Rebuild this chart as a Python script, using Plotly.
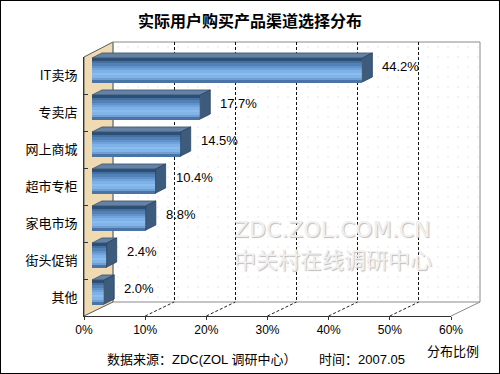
import plotly.graph_objects as go

# ---- data ----
categories = ["IT卖场", "专卖店", "网上商城", "超市专柜", "家电市场", "街头促销", "其他"]
values = [44.2, 17.7, 14.5, 10.4, 8.8, 2.4, 2.0]
x_ticks = [0, 10, 20, 30, 40, 50, 60]
x_tick_labels = ["0%", "10%", "20%", "30%", "40%", "50%", "60%"]
title_text = "实际用户购买产品渠道选择分布"
source_text = "数据来源：ZDC(ZOL 调研中心）"
time_text = "时间：2007.05"
axis_title = "分布比例"

W, H = 500, 374
FONT = "Liberation Sans, Arial, Noto Sans CJK SC"
CJK = "Noto Sans CJK SC, Liberation Sans"

n = len(categories)
ypos = list(range(n - 1, -1, -1))  # top category highest

def px(x):
    return x / W

def py(y):
    return 1 - y / H

# geometry (pixels)
front_l, front_r, front_top, front_bot = 84, 451, 57, 316
depth_x, depth_y = 29, 14
bar_dx_px, bar_dy_px = 8, 5.5

fig = go.Figure()

# ---- back wall dotted texture (subplot x/y) ----
fig.add_trace(go.Scatter(
    x=[0, 60, 60, 0, 0], y=[0, 0, 1, 1, 0], mode="none", fill="toself",
    fillcolor="rgba(0,0,0,0)",
    fillpattern=dict(shape=".", fgcolor="#c4c4f0", bgcolor="rgba(0,0,0,0)",
                     size=10, solidity=0.02),
    hoverinfo="skip", showlegend=False, xaxis="x", yaxis="y"))

# ---- bars with cylinder-like gradient (subplot x2/y2) ----
h = 0.325
strip_colors = ["#2d4e76", "#44709f", "#5281b7", "#6193cb", "#70a3db",
                "#7eb1e7", "#89bcef", "#83b4e8", "#6f9fd4", "#4a74a5"]
ns = len(strip_colors)
for k, c in enumerate(strip_colors):
    a, b = k / ns, (k + 1) / ns
    fig.add_trace(go.Bar(
        x=values, y=ypos, orientation="h",
        width=(b - a) * 2 * h + 0.004, offset=h - b * 2 * h,
        marker=dict(color=c, line=dict(width=0)),
        hoverinfo="skip", showlegend=False, xaxis="x2", yaxis="y2"))

dx = 10 / (367 / 60)
dy = 5 / 37
top_x, top_y, end_x, end_y = [], [], [], []
for v, y in zip(values, ypos):
    top_x += [0, v, v + dx, dx, 0, None]
    top_y += [y + h, y + h, y + h + dy, y + h + dy, y + h, None]
    end_x += [v, v + dx, v + dx, v, v, None]
    end_y += [y + h, y + h + dy, y - h + dy, y - h, y + h, None]

fig.add_trace(go.Scatter(x=top_x, y=top_y, mode="lines", fill="toself",
                         fillcolor="#6582a5", line=dict(color="#34506e", width=0.8),
                         hoverinfo="skip", showlegend=False, xaxis="x2", yaxis="y2"))
fig.add_trace(go.Scatter(x=end_x, y=end_y, mode="lines", fill="toself",
                         fillcolor="#3c5b7d", line=dict(color="#2b4360", width=0.8),
                         hoverinfo="skip", showlegend=False, xaxis="x2", yaxis="y2"))

# ---- front axes (subplot x3/y3) ----
fig.add_trace(go.Scatter(x=[None], y=[None], mode="markers", showlegend=False,
                         hoverinfo="skip", xaxis="x3", yaxis="y3"))

# ---- shapes: walls and floor ----
shapes = []
# left wall (tan)
shapes.append(dict(type="path", xref="paper", yref="paper", layer="below",
                   path=f"M {px(front_l)},{py(front_top)} L {px(front_l+depth_x)},{py(front_top-depth_y-1)} "
                        f"L {px(front_l+depth_x)},{py(front_bot-depth_y)} L {px(front_l)},{py(front_bot)} Z",
                   fillcolor="#efdab2", line=dict(color="#5a5a5a", width=1)))
# back wall outline
shapes.append(dict(type="rect", xref="paper", yref="paper", layer="below",
                   x0=px(front_l + depth_x), x1=px(front_r + depth_x),
                   y0=py(front_bot - depth_y), y1=py(front_top - depth_y - 1),
                   fillcolor="rgba(0,0,0,0)", line=dict(color="#8a8a8a", width=1)))
# floor right edge
shapes.append(dict(type="line", xref="paper", yref="paper", layer="below",
                   x0=px(front_r), y0=py(front_bot), x1=px(front_r + depth_x), y1=py(front_bot - depth_y),
                   line=dict(color="#8a8a8a", width=1)))
# floor dashed lines from front ticks to back gridlines
scale = (front_r - front_l) / 60
for t in x_ticks[1:-1]:
    xf = front_l + t * scale
    shapes.append(dict(type="line", xref="paper", yref="paper", layer="below",
                       x0=px(xf), y0=py(front_bot), x1=px(xf + depth_x), y1=py(front_bot - depth_y),
                       line=dict(color="#222222", width=1, dash="3px,2px")))
# outer border
shapes.append(dict(type="rect", xref="paper", yref="paper", layer="above",
                   x0=0, y0=0, x1=1, y1=1, line=dict(color="black", width=2)))

# ---- annotations ----
ann = []
for v, y in zip(values, ypos):
    ann.append(dict(x=v, y=y, xref="x2", yref="y2", text=f"{v:.1f}%", showarrow=False,
                    xanchor="left", yanchor="middle", xshift=18, yshift=4,
                    font=dict(family=FONT, size=13, color="black")))
ann.append(dict(x=0.5, y=py(20), xref="paper", yref="paper", text=f"<b>{title_text}</b>",
                showarrow=False, xanchor="center", yanchor="middle",
                font=dict(family=CJK, size=16, color="black")))
ann.append(dict(x=px(105), y=py(359), xref="paper", yref="paper", text=source_text,
                showarrow=False, xanchor="left", yanchor="middle",
                font=dict(family=FONT, size=13, color="black")))
ann.append(dict(x=px(317), y=py(359), xref="paper", yref="paper", text=time_text,
                showarrow=False, xanchor="left", yanchor="middle",
                font=dict(family=FONT, size=13, color="black")))
ann.append(dict(x=px(453), y=py(350), xref="paper", yref="paper", text=axis_title,
                showarrow=False, xanchor="center", yanchor="middle",
                font=dict(family=CJK, size=13, color="black")))
# watermark (embossed look)
ann.append(dict(x=px(232), y=py(229), xref="paper", yref="paper", text="ZDC.ZOL.COM.CN",
                showarrow=False, xanchor="left", yanchor="middle",
                font=dict(family="DejaVu Sans", size=22, color="#f0f0f0",
                          shadow="1px 1px 1px #bdbdbd")))
ann.append(dict(x=px(232), y=py(258), xref="paper", yref="paper", text="中关村在线调研中心",
                showarrow=False, xanchor="left", yanchor="middle",
                font=dict(family=CJK, size=22, color="#f0f0f0",
                          shadow="1px 1px 1px #bdbdbd")))

fig.update_layout(
    width=W, height=H, margin=dict(l=0, r=0, t=0, b=0, autoexpand=False),
    paper_bgcolor="white", plot_bgcolor="rgba(0,0,0,0)",
    barmode="overlay", bargap=0, showlegend=False,
    shapes=shapes, annotations=ann,
    xaxis=dict(domain=[px(front_l + depth_x), px(front_r + depth_x)], range=[0, 60],
               tickvals=x_ticks[1:-1], showticklabels=False, ticks="",
               showgrid=True, gridcolor="#111111", griddash="3px,2px", gridwidth=1,
               zeroline=False, showline=False, anchor="y", fixedrange=True, automargin=False),
    yaxis=dict(domain=[py(front_bot - depth_y), py(front_top - depth_y - 1)], range=[0, 1],
               showgrid=False, showticklabels=False, zeroline=False, ticks="",
               anchor="x", fixedrange=True, automargin=False),
    xaxis2=dict(domain=[px(front_l + bar_dx_px), px(front_r + bar_dx_px)], range=[0, 60],
                visible=False, anchor="y2", fixedrange=True, automargin=False),
    yaxis2=dict(domain=[py(front_bot - bar_dy_px), py(front_top - bar_dy_px)], range=[-0.5, n - 0.5],
                visible=False, anchor="x2", fixedrange=True, automargin=False),
    xaxis3=dict(domain=[px(front_l), px(front_r)], range=[0, 60], anchor="y3",
                tickvals=x_ticks, ticktext=x_tick_labels, ticks="outside", ticklen=3,
                tickcolor="#333333", showgrid=False, zeroline=False,
                showline=True, linecolor="#333333", linewidth=1, automargin=False,
                tickfont=dict(family=FONT, size=12, color="black"), fixedrange=True),
    yaxis3=dict(domain=[py(front_bot), py(front_top)], range=[-0.5, n - 0.5], anchor="x3",
                tickvals=ypos, ticktext=categories, ticks="", showgrid=False, zeroline=False,
                showline=True, linecolor="#333333", linewidth=1, automargin=False,
                minor=dict(tickvals=[i + 0.5 for i in range(n - 1)], ticks="inside",
                           ticklen=4, tickcolor="#333333"),
                ticklabelstandoff=3,
                tickfont=dict(family=CJK, size=13, color="black"), fixedrange=True),
)

fig.write_html("out.html", config={"displayModeBar": False},
               post_script="document.body.style.margin='0';document.body.style.overflow='hidden';")
